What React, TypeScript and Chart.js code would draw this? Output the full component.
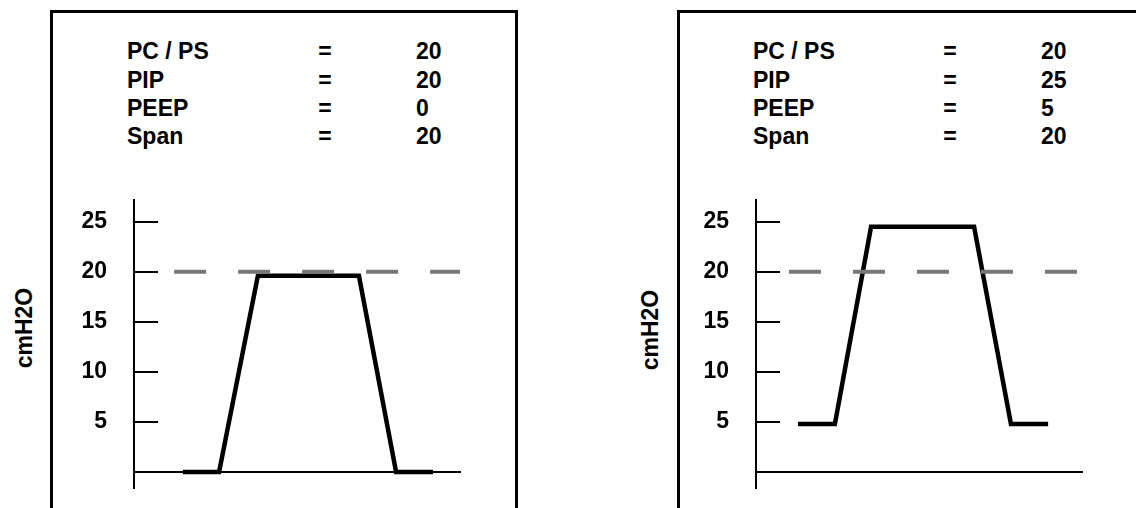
import React, { useEffect, useRef } from 'react';
import { Chart, registerables } from 'chart.js';

Chart.register(...registerables);

const FONT = '"Liberation Sans", Arial, Helvetica, sans-serif';

// ---- data ----
const paramNames = ['PC / PS', 'PIP', 'PEEP', 'Span'];
const leftParamValues = ['20', '20', '0', '20'];
const rightParamValues = ['20', '25', '5', '20'];

const yTickValues = [5, 10, 15, 20, 25];
const yAxisTitle = 'cmH2O';

// time (arbitrary units 0..100) and pressure (cmH2O) of each trace
const leftTime = [15.0, 26.1, 38.0, 69.0, 80.4, 91.7];
const leftPressure = [0, 0, 19.6, 19.6, 0, 0];
const rightTime = [12.9, 24.2, 35.3, 66.9, 78.2, 89.6];
const rightPressure = [4.8, 4.8, 24.5, 24.5, 4.8, 4.8];

// dashed PC/PS reference line
const leftRefTime = [12.3, 100];
const rightRefTime = [10.1, 98.8];
const refPressure = [20, 20];

type PanelProps = {
  canvasLeft: number;
  boxLeft: number;
  boxWidth: number;
  labelX: number;
  eqX: number;
  valueX: number;
  unitX: number;
  unitY: number;
  padLeft: number;
  padRight: number;
  values: string[];
  time: number[];
  pressure: number[];
  refTime: number[];
};

const textStyle: React.CSSProperties = {
  position: 'absolute',
  fontFamily: FONT,
  fontWeight: 'bold',
  fontSize: 23,
  lineHeight: '28px',
  height: 28,
  color: '#000',
  whiteSpace: 'nowrap',
};

const rowCenters = [51, 80, 108, 136];

function Panel(p: PanelProps) {
  const ref = useRef<HTMLCanvasElement | null>(null);

  useEffect(() => {
    if (!ref.current) return;
    const chart = new Chart(ref.current, {
      type: 'line',
      data: {
        datasets: [
          {
            data: p.refTime.map((t, i) => ({ x: t, y: refPressure[i] })),
            borderColor: '#777777',
            borderWidth: 4,
            borderDash: [32, 32],
            borderCapStyle: 'butt',
            pointRadius: 0,
            tension: 0,
          },
          {
            data: p.time.map((t, i) => ({ x: t, y: p.pressure[i] })),
            borderColor: '#000000',
            borderWidth: 4.5,
            borderJoinStyle: 'miter',
            borderCapStyle: 'butt',
            pointRadius: 0,
            tension: 0,
          },
        ],
      },
      options: {
        animation: false,
        responsive: false,
        events: [],
        layout: { padding: { top: 200, bottom: 20, left: p.padLeft, right: p.padRight } },
        plugins: {
          legend: { display: false },
          tooltip: { enabled: false },
          title: { display: false },
        },
        scales: {
          x: {
            axis: 'x',
            type: 'linear',
            min: 0,
            max: 100,
            position: { y: 0 },
            ticks: { display: false },
            grid: { display: true, drawOnChartArea: false, drawTicks: false },
            border: { display: true, color: '#000', width: 2 },
          },
          y: {
            type: 'linear',
            position: 'left',
            min: -1.6,
            max: 27.17,
            afterBuildTicks: (s: any) => {
              s.ticks = yTickValues.map((v) => ({ value: v }));
            },
            afterFit: (s: any) => {
              s.width = 134;
              s.paddingTop = 0;
              s.paddingBottom = 0;
            },
            ticks: {
              color: '#000',
              padding: 51,
              font: { family: FONT, size: 23, weight: 'bold' },
            },
            grid: {
              drawOnChartArea: false,
              drawTicks: true,
              tickLength: -24,
              color: '#000',
              lineWidth: 2,
            },
            border: { display: true, color: '#000', width: 2 },
          },
        },
      } as any,
    });
    return () => chart.destroy();
  }, []);

  return (
    <>
      <div
        style={{
          position: 'absolute',
          left: p.boxLeft,
          top: 10,
          width: p.boxWidth,
          height: 600,
          border: '3px solid #000',
          boxSizing: 'border-box',
        }}
      />
      {paramNames.map((name, i) => (
        <React.Fragment key={name}>
          <div style={{ ...textStyle, left: p.labelX, top: rowCenters[i] - 14 }}>{name}</div>
          <div style={{ ...textStyle, left: p.eqX - 20, width: 40, textAlign: 'center', top: rowCenters[i] - 14 }}>=</div>
          <div style={{ ...textStyle, left: p.valueX, top: rowCenters[i] - 14 }}>{p.values[i]}</div>
        </React.Fragment>
      ))}
      <div
        style={{
          ...textStyle,
          left: p.unitX,
          top: p.unitY,
          transform: 'translate(-50%, -50%) rotate(-90deg)',
        }}
      >
        {yAxisTitle}
      </div>
      <canvas
        ref={ref}
        width={568}
        height={508}
        style={{ position: 'absolute', left: p.canvasLeft, top: 0, width: 568, height: 508, display: 'block' }}
      />
    </>
  );
}

export default function App() {
  return (
    <div
      style={{
        position: 'absolute',
        left: 0,
        top: 0,
        width: 1136,
        height: 508,
        overflow: 'hidden',
        background: '#fff',
      }}
    >
      <Panel
        canvasLeft={0}
        boxLeft={50}
        boxWidth={468}
        labelX={127}
        eqX={325}
        valueX={416}
        unitX={24}
        unitY={328}
        padLeft={0}
        padRight={108}
        values={leftParamValues}
        time={leftTime}
        pressure={leftPressure}
        refTime={leftRefTime}
      />
      <Panel
        canvasLeft={568}
        boxLeft={677}
        boxWidth={600}
        labelX={753}
        eqX={950}
        valueX={1041}
        unitX={650}
        unitY={330}
        padLeft={54}
        padRight={54}
        values={rightParamValues}
        time={rightTime}
        pressure={rightPressure}
        refTime={rightRefTime}
      />
    </div>
  );
}
